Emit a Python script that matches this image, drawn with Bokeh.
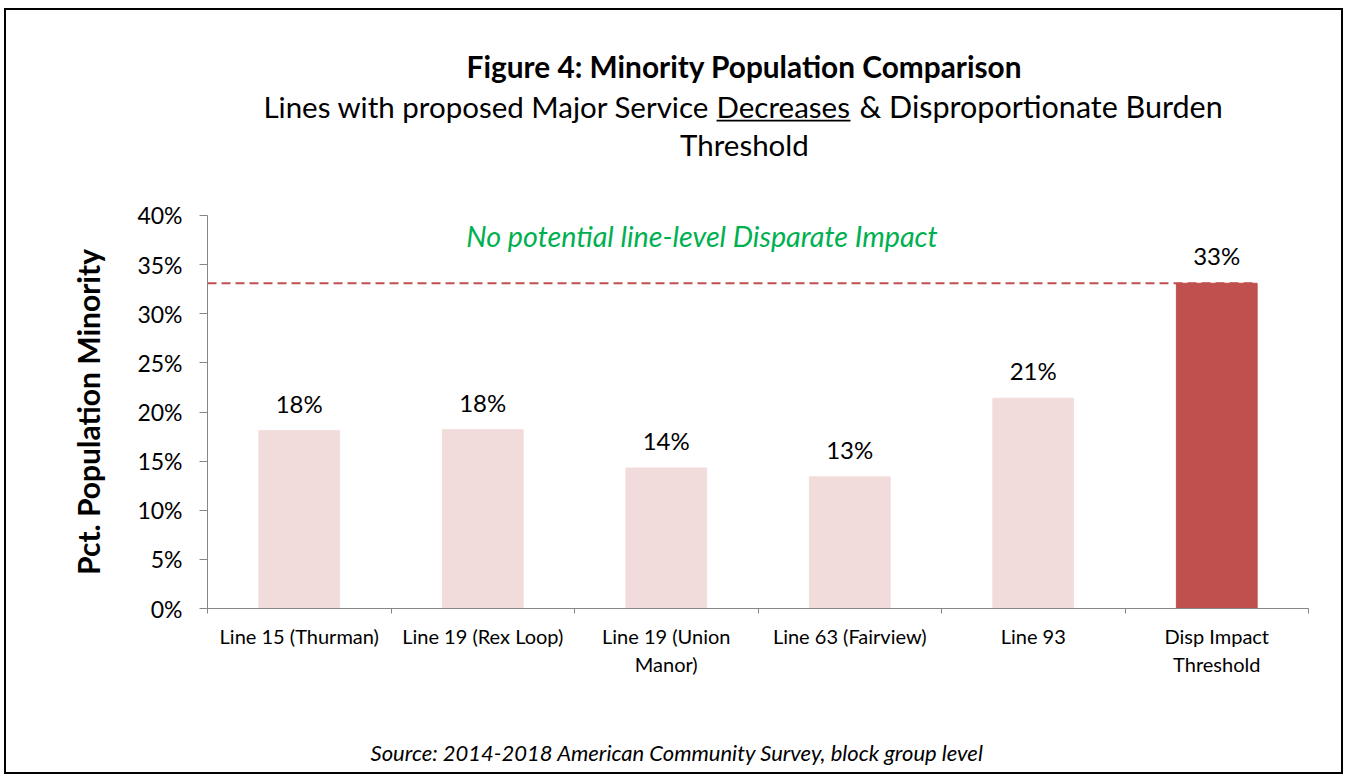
from bokeh.plotting import figure
from bokeh.models import Range1d, FixedTicker, Label, LabelSet, BoxAnnotation, PrintfTickFormatter, ColumnDataSource
from bokeh.core.properties import value
from bokeh.embed import file_html
from bokeh.resources import INLINE

# ---- data ----
categories = ["Line 15 (Thurman)", "Line 19 (Rex Loop)", "Line 19 (Union\nManor)",
              "Line 63 (Fairview)", "Line 93", "Disp Impact\nThreshold"]
pct_minority = [18.1, 18.2, 14.3, 13.4, 21.4, 33.1]
threshold = 33.1
y_ticks = [0, 5, 10, 15, 20, 25, 30, 35, 40]

title_text = "Figure 4: Minority Population Comparison"
subtitle_a = "Lines with proposed Major Service"
subtitle_u = "Decreases"
subtitle_b = "& Disproportionate Burden"
subtitle_c = "Threshold"
note_text = "No potential line-level Disparate Impact"
source_text = "Source: 2014-2018 American Community Survey, block group level"
y_title = "Pct. Population Minority"

FONT = "Lato"
LIGHT = "#F2DCDB"
DARK = "#C0504D"
AXIS = "#868686"

n = len(categories)
xs = [i + 0.5 for i in range(n)]
bar_w = 0.44
colors = [LIGHT] * (n - 1) + [DARK]
labels = [f"{v:.0f}%" for v in pct_minority]

src = ColumnDataSource(dict(x=xs, top=pct_minority, color=colors, label=labels))

# frame covers the whole canvas; axes are held at x=0 / y=0
p = figure(width=1339, height=766, output_backend="svg", toolbar_location=None,
           x_range=Range1d(-1.0954, 6.2016), y_range=Range1d(-17.099, 60.865),
           min_border=0)
p.title.visible = False
p.styles = {"border": "2px solid black", "margin-left": "4px", "margin-top": "8px"}
p.outline_line_color = None
p.xgrid.grid_line_color = None
p.ygrid.grid_line_color = None
p.background_fill_color = "white"
p.border_fill_color = "white"

# threshold dashed line (behind the bars)
p.line(x=[0, xs[-1] + bar_w / 2], y=[threshold, threshold], line_color=DARK,
       line_width=2, line_dash="9 5")

p.vbar(x="x", top="top", width=bar_w, color="color", source=src)

p.add_layout(LabelSet(x="x", y="top", text="label", source=src, y_offset=18,
                      text_align="center", text_baseline="alphabetic",
                      text_font=value(FONT), text_font_size="24px", text_color="black"))

# axes
xa = p.xaxis[0]
xa.fixed_location = 0
xa.bounds = (0, n)
xa.ticker = FixedTicker(ticks=xs, minor_ticks=list(range(n + 1)))
xa.major_label_overrides = {x: c for x, c in zip(xs, categories)}
xa.major_tick_out = 0
xa.major_tick_in = 0
xa.minor_tick_out = 5
xa.minor_tick_in = 0
xa.minor_tick_line_color = AXIS
xa.axis_line_color = AXIS
xa.major_label_text_font = FONT
xa.major_label_text_font_size = "20px"
xa.major_label_text_color = "black"
xa.major_label_standoff = 10

ya = p.yaxis[0]
ya.fixed_location = 0
ya.bounds = (0, 40)
ya.ticker = FixedTicker(ticks=y_ticks)
ya.formatter = PrintfTickFormatter(format="%d%%")
ya.major_tick_out = 8
ya.major_tick_in = 0
ya.minor_tick_line_color = None
ya.major_tick_line_color = AXIS
ya.axis_line_color = AXIS
ya.major_label_text_font = FONT
ya.major_label_text_font_size = "23px"
ya.major_label_text_color = "black"
ya.major_label_standoff = 17
ya.axis_label = y_title
ya.axis_label_text_font = FONT
ya.axis_label_text_font_style = "bold"
ya.axis_label_text_font_size = "30px"
ya.axis_label_text_color = "black"
ya.axis_label_standoff = 28

# titles and notes
def lab(x, y, text, size, style="normal", color="black", align="center"):
    p.add_layout(Label(x=x, y=y, text=text, text_font=FONT, text_font_size=size,
                       text_font_style=style, text_color=color, text_align=align,
                       text_baseline="middle"))

lab(2.926, 55.2, title_text, "29.8px", "bold")
lab(2.736, 51.1, subtitle_a, "29.5px", align="right")
lab(2.774, 51.1, subtitle_u, "29.5px", align="left")
lab(3.553, 51.1, subtitle_b, "30.5px", align="left")
lab(2.926, 47.2, subtitle_c, "29.5px")
lab(2.695, 37.96, note_text, "28.7px", "italic", color="#00B050")
lab(2.56, -14.66, source_text, "22px", "italic")

p.add_layout(BoxAnnotation(left=2.774, right=3.504, top=49.75, bottom=49.57,
                           fill_color="black", fill_alpha=1, line_color=None))

open("out.html", "w").write(file_html(p, INLINE))
